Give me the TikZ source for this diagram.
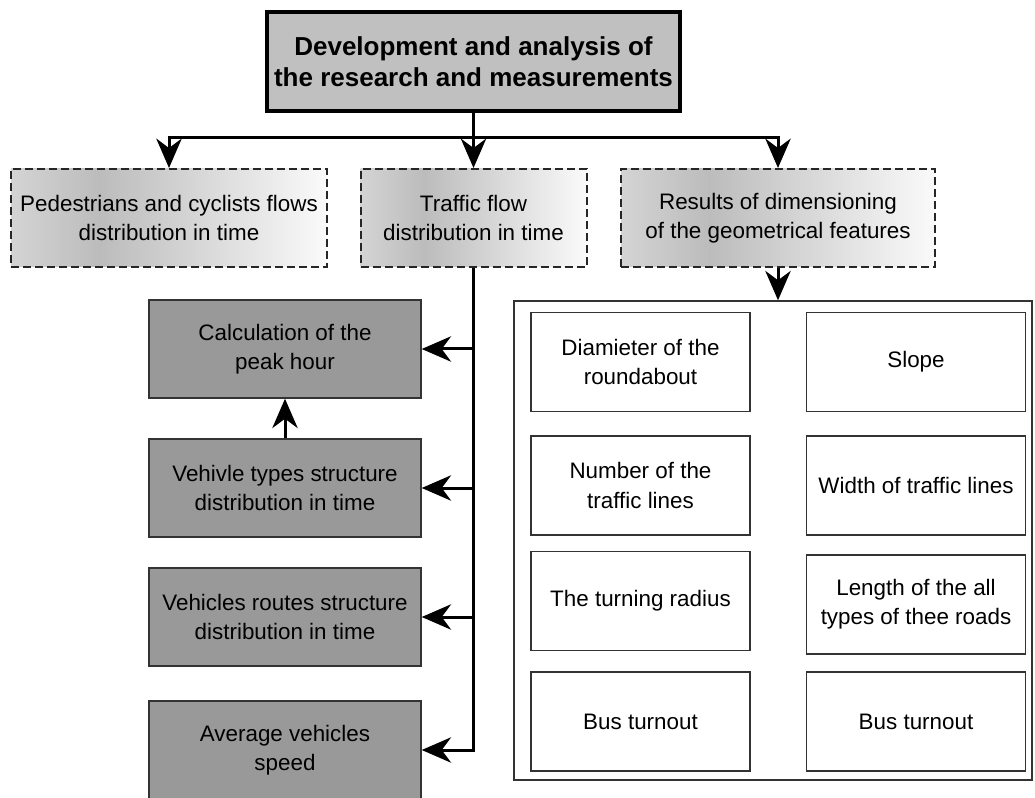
\documentclass[tikz,border=0pt]{standalone}
\usepackage{fontspec}
\setmainfont{Liberation Sans}
\usetikzlibrary{arrows.meta,calc}
\definecolor{dashA}{HTML}{D4D4D4}
\definecolor{dashB}{HTML}{BCBCBC}
\definecolor{dashC}{HTML}{FAFAFA}
\definecolor{topgray}{HTML}{C0C0C0}
\definecolor{boxgray}{HTML}{999999}
\definecolor{edge}{HTML}{333333}
\pgfdeclarehorizontalshading{dashshade}{100bp}{color(0bp)=(dashA); color(25bp)=(dashA); color(39bp)=(dashB); color(75bp)=(dashC); color(100bp)=(dashC)}

\begin{document}
\begin{tikzpicture}[x=0.75pt,y=-0.75pt,
    txt/.style={font=\fontsize{16.8}{21.8}\selectfont,align=center,inner sep=0pt},
    topbox/.style={draw=black,line width=3pt,fill=topgray,minimum width=309.75pt,minimum height=74.25pt,align=center,inner sep=0pt,font=\bfseries\fontsize{19.5}{23.5}\selectfont},
    flowbox/.style={txt,draw=black!85,line width=1.5pt,dash pattern=on 6pt off 3pt,shade,shading=dashshade,minimum height=73.5pt},
    calcbox/.style={txt,draw=edge,line width=1.1pt,fill=boxgray,minimum width=204pt,minimum height=73.5pt},
    featbox/.style={txt,draw=edge,line width=1.1pt,fill=white,minimum width=164.25pt,minimum height=74.25pt},
    link/.style={draw=black,line width=2.25pt,-{Stealth[length=22pt,width=19pt,inset=7pt]}}]
  \useasboundingbox (0,0) rectangle (1035,798);

  \node[topbox] (top) at (473.5,61.5) {Development and analysis of\\the research and measurements};

  \node[flowbox,minimum width=237pt] (ped) at (169,218) {Pedestrians and cyclists flows\\distribution in time};
  \node[flowbox,minimum width=169.5pt] (traf) at (473.5,218) {Traffic flow\\distribution in time};
  \node[flowbox,minimum width=235.5pt] (res) at (778,218) {Results of dimensioning\\of the geometrical features};

  \node[calcbox] (calc) at (285,349) {Calculation of the\\peak hour};
  \node[calcbox] (veh) at (285,488) {Vehivle types structure\\distribution in time};
  \node[calcbox] (rout) at (285,617) {Vehicles routes structure\\distribution in time};
  \node[calcbox] (avg) at (285,750) {Average vehicles\\speed};

  \node[draw=edge,line width=1.1pt,minimum width=388.5pt,minimum height=359.25pt] (panel) at (773,540.5) {};
  \node[featbox] (diam) at (640.5,362) {Diamieter of the\\roundabout};
  \node[featbox] (slope) at (916,362) {Slope};
  \node[featbox] (numl) at (640.5,485.5) {Number of the\\traffic lines};
  \node[featbox] (widl) at (916,485.5) {Width of traffic lines};
  \node[featbox] (turn) at (640.5,601) {The turning radius};
  \node[featbox] (leng) at (916,604.5) {Length of the all\\types of thee roads};
  \node[featbox] (busa) at (640.5,721.5) {Bus turnout};
  \node[featbox] (busb) at (916,721.5) {Bus turnout};

  \coordinate (split) at (top.south |- 0,138);
  \draw[link] (top.south) -- (traf.north);
  \draw[link] (split) -| (ped.north);
  \draw[link] (split) -| (res.north);
  \draw[link] (res.south) -- (res.south |- panel.north);

  \draw[link] (traf.south) |- (avg.east);
  \draw[link] (traf.south |- calc.east) -- (calc.east);
  \draw[link] (traf.south |- veh.east) -- (veh.east);
  \draw[link] (traf.south |- rout.east) -- (rout.east);
  \draw[link] (veh.north) -- (calc.south);
\end{tikzpicture}
\end{document}
